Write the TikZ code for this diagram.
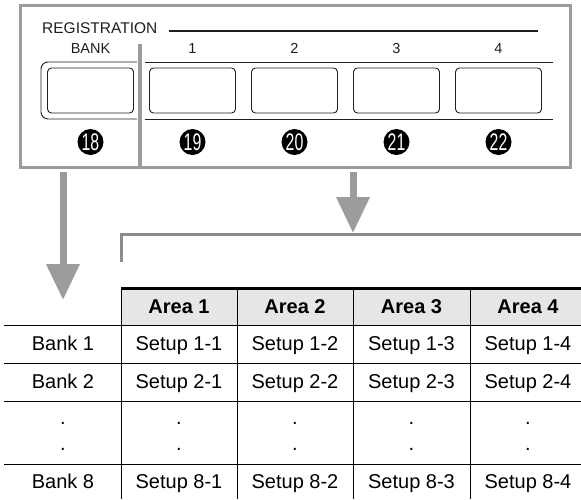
\documentclass[tikz,border=0pt]{standalone}
\usepackage{fontspec}
\setmainfont{Liberation Sans}
\newfontfamily\numfont[FakeStretch=0.66]{Liberation Sans}
\usetikzlibrary{arrows.meta,calc}
\definecolor{panelgray}{HTML}{9C9C9C}
\definecolor{bracketgray}{HTML}{8C8C8C}
\definecolor{keyink}{HTML}{1E1E1E}
\definecolor{headgray}{HTML}{E6E6E6}
\tikzset{
 panel/.style={draw=panelgray,line width=3pt,minimum width=550pt,minimum height=162pt,inner sep=0pt,outer sep=0pt},
 keycap/.style={draw=keyink,rounded corners=4pt,line width=.9pt,minimum width=86pt,minimum height=45pt,inner sep=0pt},
 keyline/.style={draw=keyink,line width=.9pt},
 keylabel/.style={font=\fontsize{14.5}{16}\selectfont,text=keyink,anchor=base},
 badge/.style={circle,fill=black,text=white,minimum size=26pt,inner sep=0pt,font=\numfont\fontsize{24}{24}\selectfont},
 bigarrow/.style={-{Triangle[length=36pt,width=32pt]},draw=panelgray,line width=7pt},
 grid/.style={draw=black,line width=.9pt},
 cell/.style={font=\fontsize{20}{24}\selectfont,anchor=base},
 headcell/.style={cell,font=\bfseries\fontsize{20}{24}\selectfont}
}

\begin{document}
\begin{tikzpicture}[x=1pt,y=-1pt]
  \useasboundingbox (0,0) rectangle (581,499);

  % control panel
  \node[panel] (panel) at (295,86) {};
  \coordinate (divtop) at (140,44);
  \draw[draw=panelgray,line width=3.5pt] (divtop) -- (divtop |- panel.south);
  \node[anchor=base west,font=\fontsize{15.5}{18}\selectfont,text=keyink,inner sep=0pt] (reg) at (42,33) {REGISTRATION};
  \coordinate (regend) at (538,31);
  \draw[keyline,line width=1.2pt] (reg.east |- regend) ++(11,0) -- (regend);

  % key strip
  \draw[keyline,rounded corners=7pt] (137,62) -- (41,62) -- (41,119) -- (137,119);
  \draw[keyline] (145,62) -- (553,62) (145,119) -- (553,119);
  \foreach \i/\lbl/\num in {0/BANK/18,1/1/19,2/2/20,3/3/21,4/4/22}{
    \node[keycap] (key\i) at ({90.5+102*\i},90.5) {};
    \node[keylabel] (lbl\i) at ({90.5+102*\i},53) {\lbl};
    \node[badge] (num\i) at ({90.5+102*\i},142) {\num};
  }

  % arrows and bracket
  \coordinate (banktip) at (63,300);
  \coordinate (areatip) at (353,233);
  \draw[bigarrow] ($(panel.south -| banktip)+(0,5)$) -- (banktip);
  \draw[bigarrow] ($(panel.south -| areatip)+(0,5)$) -- (areatip);
  \draw[draw=bracketgray,line width=3pt] (121,262) -- (121,234) -- (581,234);

  % table
  \fill[headgray] (121,288) rectangle (581,325);
  \foreach \y in {325,363,401,464} \draw[grid] (4,\y) -- (581,\y);
  \foreach \x in {121,237,353,470} \draw[grid] (\x,288) -- (\x,499);
  \draw[line width=3pt] (121,288) -- (581,288);

  \foreach \c/\x in {1/179,2/295,3/411.5,4/528}
    \node[headcell] (area\c) at (\x,313) {Area \c};
  \foreach \r/\y in {1/350,2/388,8/488}{
    \node[cell] (bank\r) at (63,\y) {Bank \r};
    \foreach \c/\x in {1/179,2/295,3/411.5,4/528}
      \node[cell] (setup\r\c) at (\x,\y) {Setup \r-\c};
  }
  \foreach \x [count=\c] in {63,179,295,411.5,528}{
    \node[cell] (dota\c) at (\x,424) {.};
    \node[cell] (dotb\c) at (\x,450) {.};
  }
\end{tikzpicture}
\end{document}
